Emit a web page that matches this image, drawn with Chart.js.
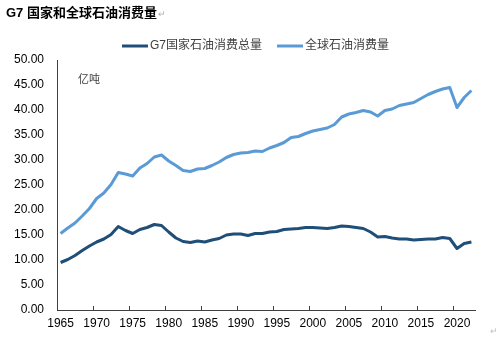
<!DOCTYPE html>
<html>
<head>
<meta charset="utf-8">
<script src="https://cdn.jsdelivr.net/npm/chart.js@4.4.1/dist/chart.umd.min.js"></script>
<style>
  html, body { margin: 0; padding: 0; background: #fff; }
  #wrap { width: 500px; height: 339px; position: relative; }
</style>
</head>
<body>
<div id="wrap"><canvas id="c" width="500" height="339"></canvas></div>
<script>
// Years 1965–2022
const years = [];
for (let y = 1965; y <= 2022; y++) years.push(String(y));

// G7 oil consumption, 100 million tonnes
const g7Consumption = [
  9.5, 10.1, 10.9, 11.9, 12.8, 13.6, 14.2, 15.1, 16.7, 15.9,
  15.3, 16.1, 16.5, 17.1, 16.9, 15.6, 14.4, 13.7, 13.5, 13.8,
  13.6, 14.0, 14.3, 15.0, 15.2, 15.2, 14.9, 15.3, 15.3, 15.6,
  15.7, 16.1, 16.2, 16.3, 16.5, 16.5, 16.4, 16.3, 16.5, 16.8,
  16.7, 16.5, 16.3, 15.6, 14.6, 14.7, 14.4, 14.2, 14.2, 14.0,
  14.1, 14.2, 14.2, 14.5, 14.3, 12.3, 13.3, 13.6
];

// World oil consumption, 100 million tonnes
const worldConsumption = [
  15.3, 16.4, 17.4, 18.8, 20.3, 22.3, 23.4, 25.1, 27.5, 27.2,
  26.8, 28.4, 29.3, 30.6, 31.0, 29.8, 28.9, 27.9, 27.7, 28.2,
  28.3, 28.9, 29.6, 30.5, 31.1, 31.4, 31.5, 31.8, 31.7, 32.4,
  32.9, 33.5, 34.5, 34.7, 35.3, 35.8, 36.1, 36.4, 37.1, 38.6,
  39.2, 39.5, 39.9, 39.6, 38.8, 39.9, 40.2, 40.9, 41.2, 41.5,
  42.3, 43.1, 43.7, 44.2, 44.5, 40.5, 42.5, 43.9
];

const seriesNames = ['G7国家石油消费总量', '全球石油消费量'];
const titleText = 'G7 国家和全球石油消费量';
const unitText = '亿吨';
const yTicks = [0, 5, 10, 15, 20, 25, 30, 35, 40, 45, 50];

const DARK = '#1F4E79';
const LIGHT = '#5B9BD5';
const AXIS = '#404040';
const LATIN = '"Liberation Sans", Arial, sans-serif';
const CJK = '"Liberation Sans", "Noto Sans CJK SC", sans-serif';

// Title, legend, unit label and inward x tick marks
const decorations = {
  id: 'decorations',
  afterDraw(chart) {
    const ctx = chart.ctx;
    const area = chart.chartArea;
    const x = chart.scales.x;
    ctx.save();

    // title
    ctx.fillStyle = '#000';
    ctx.font = 'bold 13px ' + CJK;
    ctx.textBaseline = 'alphabetic';
    ctx.textAlign = 'left';
    ctx.fillText(titleText, 6, 17);
    const tw = ctx.measureText(titleText).width;
    ctx.fillStyle = '#b0b0b0';
    ctx.font = '9px ' + LATIN;
    ctx.fillText('\u21B5', 6 + tw + 1, 17);

    // legend
    const items = [
      { x: 122, color: chart.data.datasets[0].borderColor, label: chart.data.datasets[0].label },
      { x: 277, color: chart.data.datasets[1].borderColor, label: chart.data.datasets[1].label }
    ];
    ctx.font = '12px ' + CJK;
    ctx.textBaseline = 'middle';
    items.forEach(it => {
      ctx.strokeStyle = it.color;
      ctx.lineWidth = 3;
      ctx.beginPath();
      ctx.moveTo(it.x, 46);
      ctx.lineTo(it.x + 26, 46);
      ctx.stroke();
      ctx.fillStyle = '#404040';
      ctx.fillText(it.label, it.x + 28, 46);
    });

    // unit
    ctx.fillStyle = '#404040';
    ctx.font = '11px ' + CJK;
    ctx.fillText(unitText, 78, 80);

    // x tick marks every five categories, pointing into the plot
    ctx.strokeStyle = AXIS;
    ctx.lineWidth = 1;
    for (let i = 5; i < years.length; i += 5) {
      const px = Math.round((x.getPixelForTick(i) + x.getPixelForTick(i - 1)) / 2) + 0.5;
      ctx.beginPath();
      ctx.moveTo(px, area.bottom);
      ctx.lineTo(px, area.bottom - 4);
      ctx.stroke();
    }

    // trailing paragraph mark
    ctx.fillStyle = '#c0c0c0';
    ctx.font = '9px ' + LATIN;
    ctx.textBaseline = 'alphabetic';
    ctx.fillText('\u21B5', 490, 334);
    ctx.restore();
  }
};

new Chart(document.getElementById('c'), {
  type: 'line',
  data: {
    labels: years,
    datasets: [
      {
        label: seriesNames[0],
        data: g7Consumption,
        borderColor: DARK,
        backgroundColor: DARK,
        borderWidth: 3,
        pointRadius: 0,
        tension: 0,
        borderJoinStyle: 'round'
      },
      {
        label: seriesNames[1],
        data: worldConsumption,
        borderColor: LIGHT,
        backgroundColor: LIGHT,
        borderWidth: 3,
        pointRadius: 0,
        tension: 0,
        borderJoinStyle: 'round'
      }
    ]
  },
  options: {
    responsive: false,
    animation: false,
    devicePixelRatio: 1,
    layout: { padding: { top: 60, right: 25, left: 0, bottom: 0 } },
    plugins: {
      legend: { display: false },
      title: { display: false },
      tooltip: { enabled: false }
    },
    scales: {
      x: {
        type: 'category',
        offset: true,
        grid: { display: false, drawTicks: false },
        border: { display: true, color: AXIS, width: 1 },
        ticks: {
          autoSkip: false,
          maxRotation: 0,
          padding: 6,
          color: '#000',
          font: { family: LATIN, size: 12 },
          callback(v, i) { return (Number(years[i]) % 5 === 0) ? years[i] : ''; }
        },
        afterFit(s) { s.height = 29; }
      },
      y: {
        min: 0,
        max: 50,
        afterBuildTicks(s) { s.ticks = yTicks.map(v => ({ value: v })); },
        grid: { display: false, drawTicks: false },
        border: { display: true, color: AXIS, width: 1 },
        ticks: {
          padding: 13,
          color: '#000',
          font: { family: LATIN, size: 12 },
          callback(v) { return Number(v).toFixed(2); }
        },
        afterFit(s) { s.width = 57; }
      }
    }
  },
  plugins: [decorations]
});
</script>
</body>
</html>
